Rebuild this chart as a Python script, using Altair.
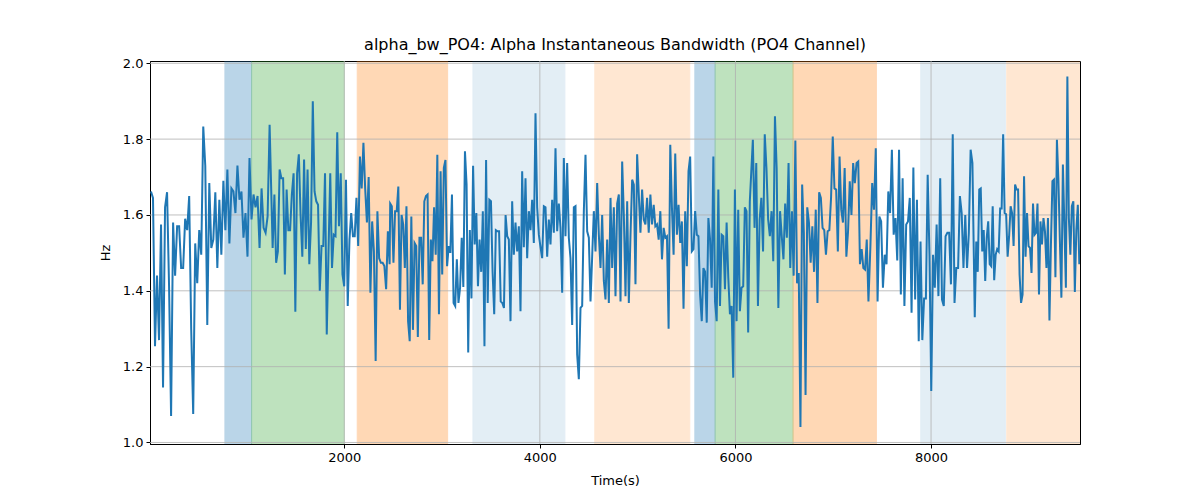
import altair as alt
import numpy as np
import pandas as pd

# ---- signal values, read strip by strip (each strip evenly sampled between its bounds)
seg_bounds = [(24, 1237), (1268, 2464), (2470, 3683), (3700, 4910),
              (4927, 6147), (6178, 7360), (7380, 8423), (8447, 9516)]

seg1 = [1.662,1.645,1.254,1.44,1.27,1.575,1.145,1.62,1.66,1.41,1.07,1.58,1.44,1.57,1.57,1.46,1.46,1.59,1.56,1.65,
        1.30,1.075,1.525,1.42,1.56,1.495,1.833,1.73,1.31,1.684,1.513,1.535,1.66,1.46,1.64,1.495,1.69,1.56,1.72,1.525,
        1.67,1.662,1.605,1.73,1.64,1.662,1.54,1.605,1.49,1.75,1.588,1.654,1.62,1.65,1.513,1.67,1.566,1.553,1.596,1.838]
seg2 = [1.513,1.654,1.474,1.504,1.72,1.697,1.697,1.443,1.667,1.56,1.56,1.654,1.71,1.345,1.71,1.76,1.60,1.49,1.746,1.51,
        1.72,1.47,1.58,1.90,1.662,1.636,1.627,1.40,1.518,1.518,1.71,1.285,1.504,1.71,1.46,1.548,1.544,1.818,1.57,1.71,
        1.443,1.412,1.693,1.36,1.535,1.605,1.544,1.544,1.645,1.518,1.754,1.67,1.79,1.67,1.58,1.70,1.395,1.583,1.504,1.215,
        1.61,1.486,1.474,1.474,1.465,1.404,1.557,1.47]
seg3 = [1.63,1.623,1.474,1.61,1.61,1.675,1.35,1.60,1.575,1.46,1.623,1.32,1.267,1.596,1.297,1.526,1.518,1.278,1.54,1.54,
        1.417,1.636,1.65,1.654,1.27,1.535,1.478,1.62,1.495,1.759,1.338,1.715,1.443,1.724,1.745,1.465,1.518,1.50,1.654,1.368,
        1.36,1.483,1.368,1.408,1.54,1.41,1.768,1.68,1.237,1.56,1.38,1.73,1.522,1.605,1.412,1.535,1.45,1.61,1.254,1.745,
        1.368,1.64,1.636,1.45,1.338,1.56,1.557,1.557,1.372,1.368,1.355,1.60,1.544,1.535]
seg4 = [1.32,1.636,1.495,1.58,1.504,1.57,1.346,1.715,1.515,1.697,1.486,1.61,1.56,1.64,1.526,1.868,1.62,1.548,1.515,1.486,
        1.623,1.62,1.49,1.588,1.522,1.64,1.553,1.776,1.557,1.63,1.566,1.395,1.75,1.544,1.737,1.54,1.486,1.31,1.62,1.623,
        1.232,1.167,1.355,1.36,1.61,1.759,1.557,1.54,1.372,1.49,1.61,1.504,1.684,1.548,1.46,1.60,1.426,1.377,1.535,1.368,
        1.645,1.46,1.62,1.386,1.63,1.654,1.372,1.741,1.60,1.386,1.636,1.368]
seg5 = [1.548,1.693,1.68,1.417,1.76,1.654,1.553,1.667,1.588,1.575,1.645,1.553,1.654,1.575,1.627,1.57,1.575,1.535,1.61,1.483,
        1.566,1.54,1.544,1.30,1.785,1.62,1.495,1.762,1.548,1.627,1.526,1.583,1.353,1.61,1.465,1.715,1.754,1.504,1.51,1.61,
        1.548,1.544,1.39,1.32,1.46,1.45,1.316,1.592,1.535,1.408,1.754,1.372,1.32,1.667,1.36,1.548,1.544,1.404,1.58,1.435,
        1.338,1.36,1.171,1.667,1.32,1.614,1.346,1.408,1.412,1.62,1.61,1.29,1.636]
seg6 = [1.798,1.566,1.737,1.36,1.588,1.645,1.504,1.813,1.724,1.588,1.544,1.61,1.478,1.86,1.724,1.355,1.61,1.544,1.483,1.63,
        1.54,1.737,1.46,1.61,1.44,1.796,1.42,1.447,1.041,1.68,1.553,1.125,1.62,1.58,1.474,1.57,1.45,1.614,1.368,1.66,
        1.645,1.566,1.56,1.495,1.557,1.56,1.645,1.807,1.67,1.667,1.504,1.754,1.614,1.58,1.724,1.49,1.557,1.689,1.60,1.737,
        1.684,1.737,1.741,1.47,1.51,1.46,1.456,1.535,1.372]
seg7 = [1.518,1.684,1.614,1.776,1.372,1.596,1.583,1.408,1.495,1.47,1.662,1.605,1.772,1.548,1.592,1.48,1.772,1.39,1.697,1.36,
        1.575,1.583,1.645,1.342,1.725,1.377,1.64,1.267,1.53,1.27,1.38,1.38,1.706,1.495,1.136,1.495,1.408,1.575,1.386,1.697,
        1.377,1.36,1.544,1.553,1.553,1.417,1.813,1.368,1.46,1.46,1.65,1.605,1.46,1.60,1.46,1.553,1.772,1.737]
seg8 = [1.33,1.53,1.45,1.667,1.67,1.504,1.56,1.426,1.54,1.583,1.47,1.465,1.623,1.428,1.495,1.51,1.504,1.617,1.617,1.813,
        1.605,1.602,1.49,1.544,1.623,1.605,1.518,1.68,1.667,1.667,1.443,1.368,1.39,1.702,1.49,1.605,1.518,1.513,1.447,1.63,
        1.548,1.553,1.63,1.39,1.583,1.522,1.592,1.557,1.46,1.592,1.322,1.522,1.689,1.693,1.436,1.798,1.693,1.53,1.382,1.733,
        1.575,1.408,1.965,1.592,1.495,1.623,1.636,1.397,1.56,1.627,1.47]

segments = [seg1, seg2, seg3, seg4, seg5, seg6, seg7, seg8]

# ---- shaded intervals
span_start = [780, 1053, 2133, 3316, 4562, 5585, 5792, 6589, 7895, 8774]
span_end   = [1053, 2000, 3057, 4256, 5533, 5792, 6589, 7441, 8760, 9523]
span_color = ["#1f77b4", "#2ca02c", "#ff7f0e", "#1f77b4", "#ff7f0e",
              "#1f77b4", "#2ca02c", "#ff7f0e", "#1f77b4", "#ff7f0e"]
span_alpha = [0.3, 0.3, 0.3, 0.12, 0.18, 0.3, 0.3, 0.3, 0.12, 0.18]

x_ticks = [2000, 4000, 6000, 8000]
y_ticks = [1.0, 1.2, 1.4, 1.6, 1.8, 2.0]
x_domain = [14, 9523]
y_domain = [0.996, 2.006]

times, values = [], []
for (a, b), seg in zip(seg_bounds, segments):
    times.extend(np.linspace(a, b, len(seg)).tolist())
    values.extend(seg)
sig = pd.DataFrame({"t": times, "v": values})

spans = pd.DataFrame({"s": span_start, "e": span_end, "c": span_color, "a": span_alpha})
gx = pd.DataFrame({"x": x_ticks})
gy = pd.DataFrame({"y": y_ticks})

xs = alt.Scale(domain=x_domain, nice=False, zero=False)
ys = alt.Scale(domain=y_domain, nice=False, zero=False)

xaxis = alt.Axis(values=x_ticks, format="d", grid=False, title="Time(s)",
                 domainColor="black", tickColor="black", tickSize=4, labelPadding=3,
                 labelFontSize=13, labelColor="black", titleFontSize=13,
                 titleFontWeight="normal", titleColor="black", titlePadding=10, labelFlush=False)
yaxis = alt.Axis(values=y_ticks, format=".1f", grid=False, title="Hz",
                 domainColor="black", tickColor="black", tickSize=4, labelPadding=3,
                 labelFontSize=13, labelColor="black", titleFontSize=13,
                 titleFontWeight="normal", titleColor="black", titlePadding=10, labelFlush=False)

rects = alt.Chart(spans).mark_rect(clip=True, strokeWidth=1).encode(
    x=alt.X("s:Q", scale=xs, axis=xaxis),
    x2="e:Q",
    fill=alt.Color("c:N", scale=None),
    stroke=alt.Color("c:N", scale=None),
    opacity=alt.Opacity("a:Q", scale=None),
)

gridx = alt.Chart(gx).mark_rule(color="#b0b0b0", strokeWidth=0.8).encode(
    x=alt.X("x:Q", scale=xs, axis=xaxis))
gridy = alt.Chart(gy).mark_rule(color="#b0b0b0", strokeWidth=0.8).encode(
    y=alt.Y("y:Q", scale=ys, axis=yaxis))

line = alt.Chart(sig).mark_line(color="#1f77b4", strokeWidth=2, clip=True).encode(
    x=alt.X("t:Q", scale=xs, axis=xaxis),
    y=alt.Y("v:Q", scale=ys, axis=yaxis),
)

chart = alt.layer(rects, gridx, gridy, line).properties(
    width=930, height=383,
    autosize=alt.AutoSizeParams(type="none"),
    padding={"left": 142, "top": 53, "right": 112, "bottom": 50},
    title=alt.Title("alpha_bw_PO4: Alpha Instantaneous Bandwidth (PO4 Channel)",
                    fontSize=16, fontWeight="normal", color="black", offset=4),
).configure(font="DejaVu Sans").configure_view(stroke="black", strokeWidth=1)

chart.save("out.html", embed_options={"renderer": "svg", "actions": False})
